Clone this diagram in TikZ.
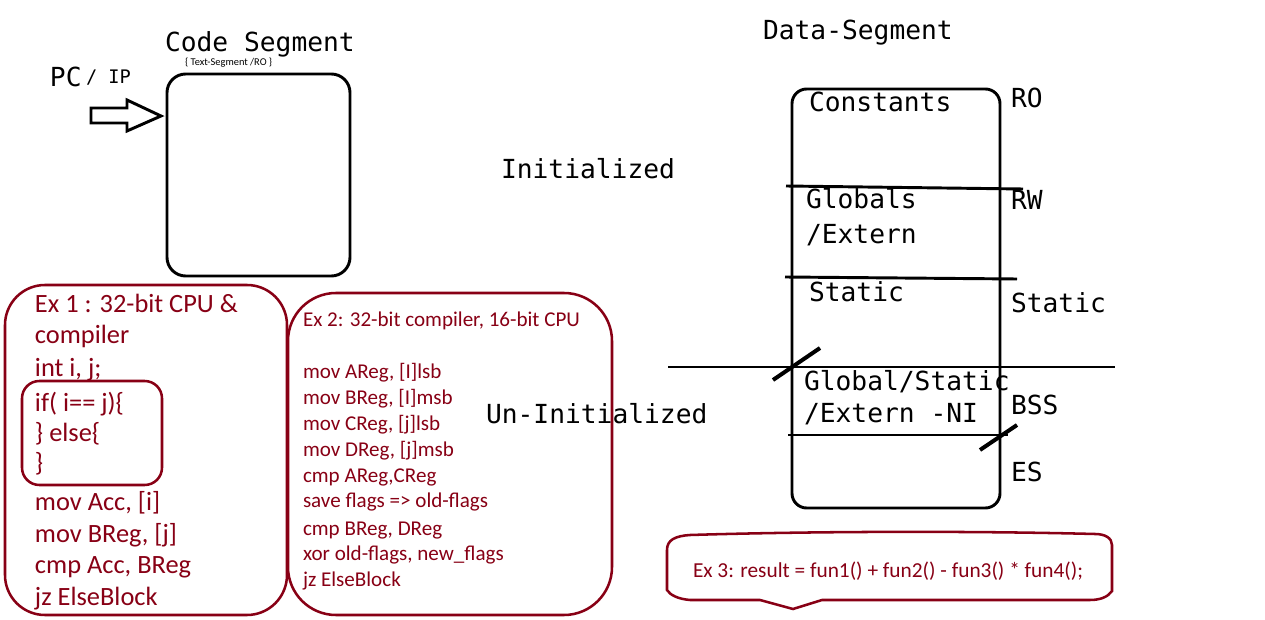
\documentclass[tikz,border=0pt]{standalone}
\usepackage{fontspec}
\setmainfont{Carlito}
\setmonofont{DejaVu Sans Mono}
\usetikzlibrary{positioning}
\definecolor{darkred}{RGB}{136,0,21}

\begin{document}
\begin{tikzpicture}[x=0.75pt, y=-0.75pt,
    every node/.style={inner sep=0pt, outer sep=0pt},
    mono/.style={anchor=base west, font=\ttfamily\fontsize{19.7}{24}\selectfont},
    code/.style={anchor=base west, text=darkred, font=\fontsize{19.8}{24}\selectfont},
    smallcode/.style={anchor=base west, text=darkred, font=\fontsize{15.8}{19}\selectfont},
    segbox/.style={line width=2.2pt},
    redbox/.style={draw=darkred, line width=1.9pt},
    divider/.style={line width=2.2pt},
    slash/.style={line width=3pt}]

    \fill[white] (0,0) rectangle (1265,620);
    \useasboundingbox (0,0) rectangle (1265,620);

    % Code segment and PC
    \node[mono] (codeTitle) at (165,52) {Code Segment};
    \node[anchor=base west, font=\fontsize{7.8}{9}\selectfont] (codeSub) at (185,66) {\{ Text-Segment /RO \}};
    \node[mono] (pc) at (50,87) {PC};
    \node[mono, font=\ttfamily\fontsize{14}{16}\selectfont] (ip) at (86,84) {/ IP};
    \draw[segbox, rounded corners=14pt] (167,74) rectangle (350,276);
    \draw[segbox] (91,108) -- (127,108) -- (127,100) -- (161,116) -- (127,131)
        -- (127,123) -- (91,123) -- cycle;

    % Ex 1
    \draw[redbox, rounded corners=30pt] (5,285) rectangle (287,615);
    \draw[redbox, rounded corners=13pt] (22,381) rectangle (162,485);
    \node[code] (ex1a) at (35,313) {Ex 1 : 32-bit CPU \&};
    \node[code] (ex1b) at (35,344) {compiler};
    \node[code] (ex1c) at (35,377) {int i, j;};
    \node[code] (ex1d) at (35,412) {if( i== j)\{};
    \node[code] (ex1e) at (35,442) {\} else\{};
    \node[code] (ex1f) at (35,472) {\}};
    \node[code] (ex1g) at (35,510) {mov Acc, [i]};
    \node[code] (ex1h) at (35,542) {mov BReg, [j]};
    \node[code] (ex1i) at (35,573) {cmp Acc, BReg};
    \node[code] (ex1j) at (35,605) {jz ElseBlock};

    % Ex 2
    \draw[redbox, rounded corners=36pt] (288,293) rectangle (612,615);
    \node[smallcode] (ex2a) at (303,327) {Ex 2: 32-bit compiler, 16-bit CPU};
    \node[smallcode] (ex2b) at (303,379) {mov AReg, [I]lsb};
    \node[smallcode] (ex2c) at (303,405) {mov BReg, [I]msb};
    \node[smallcode] (ex2d) at (303,431) {mov CReg, [j]lsb};
    \node[smallcode] (ex2e) at (303,457) {mov DReg, [j]msb};
    \node[smallcode] (ex2f) at (303,483) {cmp AReg,CReg};
    \node[smallcode] (ex2g) at (303,508) {save flags => old-flags};
    \node[smallcode] (ex2h) at (303,535) {cmp BReg, DReg};
    \node[smallcode] (ex2i) at (303,560) {xor old-flags, new\_flags};
    \node[smallcode] (ex2j) at (303,586) {jz ElseBlock};

    % Data segment
    \node[mono] (dataTitle) at (763,40) {Data-Segment};
    \node[mono] (init) at (501,179) {Initialized};
    \node[mono] (uninit) at (486,424) {Un-Initialized};
    \draw[segbox, rounded corners=11pt] (792,89) rectangle (1000,508);
    \draw[divider] (786,186) -- (1023,189);
    \draw[divider] (785,277) -- (1017,279);
    \draw[line width=1.6pt] (668,367) -- (1115,367);
    \draw[divider] (788,435) -- (1008,435);
    \draw[slash] (773,380) -- (820,348);
    \draw[slash] (980,450) -- (1017,425);

    \node[mono] (constants) at (809,112) {Constants};
    \node[mono] (globals) at (806,209) {Globals};
    \node[mono] (externA) at (806,244) {/Extern};
    \node[mono] (staticIn) at (809,302) {Static};
    \node[mono] (globalStatic) at (804,391) {Global/Static};
    \node[mono] (externNI) at (804,423) {/Extern -NI};
    \node[mono] (ro) at (1011,108) {RO};
    \node[mono] (rw) at (1011,210) {RW};
    \node[mono] (staticOut) at (1011,313) {Static};
    \node[mono] (bss) at (1011,415) {BSS};
    \node[mono] (es) at (1011,482) {ES};

    % Ex 3
    \draw[redbox] (667,590) -- (667,550) .. controls (667,540) and (675,536) .. (690,535)
        .. controls (820,531) and (980,531) .. (1095,534) .. controls (1105,534) and (1112,538) .. (1112,545)
        -- (1112,591) .. controls (1108,597) and (1100,600) .. (1090,600)
        -- (822,600) -- (793,609) -- (760,600) -- (690,600)
        .. controls (678,599) and (670,595) .. cycle;
    \node[smallcode, font=\fontsize{16}{19}\selectfont] (ex3) at (693,577) {Ex 3: result = fun1() + fun2() - fun3() * fun4();};
\end{tikzpicture}
\end{document}
